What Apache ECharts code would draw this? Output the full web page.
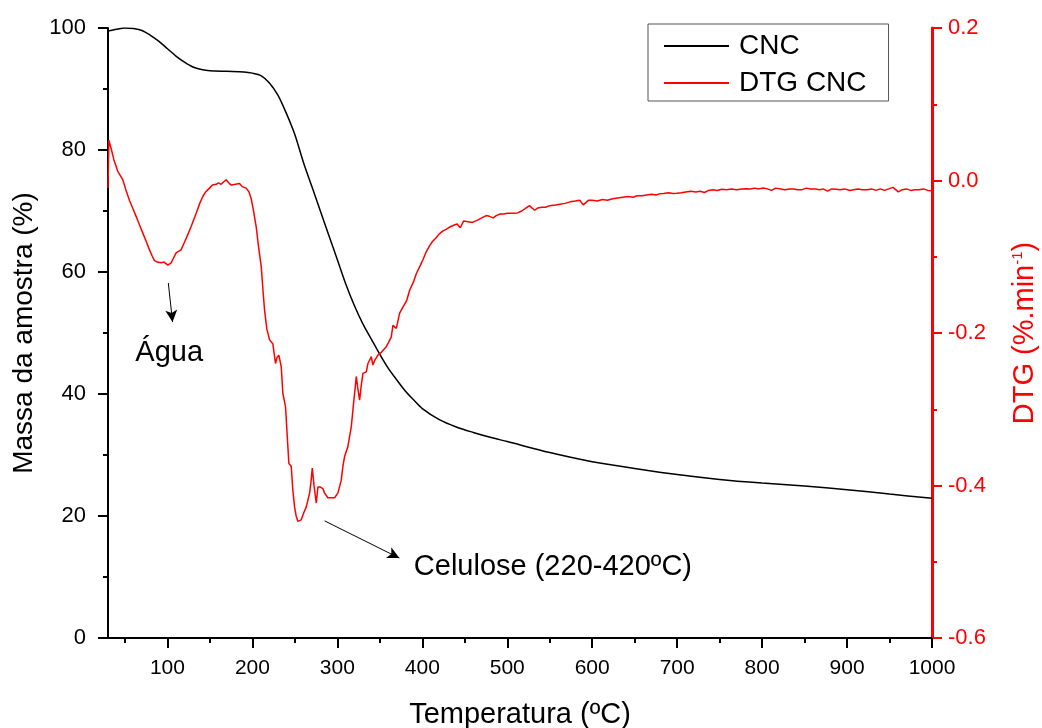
<!DOCTYPE html>
<html>
<head>
<meta charset="utf-8">
<script src="https://cdn.jsdelivr.net/npm/echarts@6/dist/echarts.min.js"></script>
<style>
  html, body { margin: 0; padding: 0; background: #fff; }
  #chart { width: 1042px; height: 728px; }
</style>
</head>
<body>
<div id="chart"></div>
<script>
// curva TG (massa %) x temperatura
let cncData = [
  [30, 99.5], [40, 99.8], [50, 100], [60, 99.9], [70, 99.6], [80, 98.8], [90, 97.8],
  [100, 96.6], [110, 95.4], [120, 94.4], [130, 93.6], [140, 93.2], [150, 93.0],
  [170, 92.9], [190, 92.8], [200, 92.6], [210, 92.2], [220, 91.0], [230, 89.0],
  [240, 86.0], [250, 82.5], [260, 78.0], [270, 74.0], [280, 70.0], [290, 66.0],
  [300, 62.0], [310, 58.0], [320, 54.5], [330, 51.5], [340, 49.0], [350, 46.5],
  [360, 44.2], [370, 42.3], [380, 40.5], [390, 39.0], [400, 37.6], [420, 35.8],
  [440, 34.6], [460, 33.7], [480, 32.9], [500, 32.2], [550, 30.4], [600, 28.9],
  [650, 27.8], [700, 26.8], [750, 26.0], [800, 25.4], [850, 24.9], [900, 24.3],
  [950, 23.6], [1000, 22.9]
];

// curva DTG (%.min-1)
let dtgData = [
  [30, -0.01], [31, 0.053], [33.7, 0.042], [37, 0.027], [41.5, 0.012], [47.4, 0.001],
  [51, -0.012], [55.2, -0.026], [59, -0.036], [63.1, -0.047], [67, -0.058], [71, -0.069],
  [75, -0.080], [78.8, -0.091], [82, -0.099], [84.7, -0.105], [88, -0.107], [92.5, -0.108],
  [96, -0.107], [100.4, -0.111], [104.3, -0.108], [107, -0.102], [110.2, -0.095],
  [113, -0.093], [116, -0.091], [120, -0.081], [123.9, -0.071], [128, -0.060],
  [133.8, -0.043], [138, -0.030], [141.6, -0.021], [145, -0.015], [149.5, -0.010],
  [153, -0.006], [157.4, -0.005], [160, -0.003], [163.2, -0.005], [166, -0.002],
  [169.1, 0.001], [172, -0.003], [175, -0.006], [180, -0.005], [184.8, -0.004],
  [188, -0.008], [192.7, -0.010], [196, -0.015], [198.6, -0.024], [201, -0.038],
  [204.5, -0.061], [207, -0.085], [210.4, -0.113], [212.5, -0.145], [214.3, -0.170],
  [217, -0.195], [220.2, -0.209], [224, -0.214], [227.2, -0.240], [229, -0.232],
  [231.1, -0.229], [233.9, -0.244], [235.8, -0.279], [239, -0.297], [241, -0.335],
  [242.9, -0.371], [245.7, -0.375], [247.5, -0.405], [249.6, -0.428], [251.5, -0.440],
  [253.5, -0.447], [255.5, -0.447], [257.5, -0.445], [260, -0.437], [263.4, -0.428],
  [267.3, -0.410], [269, -0.395], [270.5, -0.377], [272.5, -0.400], [275.2, -0.423],
  [277.1, -0.402], [280, -0.402], [282.9, -0.404], [285, -0.410], [288.8, -0.416],
  [293, -0.416], [296.7, -0.416], [300.6, -0.410], [304.6, -0.393], [306.5, -0.375],
  [308.5, -0.362], [312.4, -0.349], [314.5, -0.335], [316.4, -0.323], [319.1, -0.292],
  [322.3, -0.257], [324, -0.272], [326.2, -0.288], [328, -0.270], [330.1, -0.253],
  [334.1, -0.251], [336, -0.240], [340, -0.231], [341.8, -0.242], [344, -0.236],
  [347.7, -0.229], [352, -0.225], [357.6, -0.218], [360, -0.213], [363.5, -0.205],
  [365.4, -0.190], [367, -0.192], [369.4, -0.194], [373.3, -0.174], [377.2, -0.166],
  [381.4, -0.158], [385.1, -0.144], [389.6, -0.133], [393, -0.122], [397.8, -0.111],
  [400.7, -0.104], [404, -0.095], [408.3, -0.086], [412, -0.080], [416.3, -0.075],
  [420, -0.070], [424.3, -0.066], [428, -0.064], [432.2, -0.061], [438.3, -0.058],
  [441, -0.057], [444.7, -0.062], [448.7, -0.053], [454, -0.054], [459, -0.055],
  [465, -0.052], [470, -0.049], [475.2, -0.046], [479, -0.047], [483.5, -0.049],
  [487, -0.046], [491.6, -0.044], [496, -0.044], [500, -0.043], [506, -0.043],
  [512, -0.0425], [517, -0.040], [521, -0.037], [526.2, -0.033], [529, -0.036],
  [532.3, -0.039], [536, -0.036], [540.5, -0.035], [545, -0.035], [550, -0.033],
  [556.8, -0.032], [562, -0.031], [568, -0.030], [574, -0.028], [580, -0.027],
  [585.3, -0.026], [589.4, -0.032], [595.5, -0.026], [600, -0.026], [606, -0.027],
  [612, -0.025], [618, -0.026], [624, -0.024], [630, -0.023], [636, -0.022],
  [642.4, -0.021], [648, -0.022], [653, -0.020], [658.7, -0.020], [664, -0.019],
  [670, -0.018], [675, -0.019], [679.1, -0.0175], [684, -0.017], [690, -0.016],
  [695, -0.017], [699.5, -0.0166], [705, -0.016], [710, -0.015], [715.8, -0.014],
  [722, -0.015], [727, -0.014], [732.1, -0.0157], [737, -0.013], [742, -0.012],
  [747, -0.013], [752.5, -0.0115], [758, -0.012], [764, -0.011], [770, -0.012],
  [776, -0.011], [781, -0.0108], [786, -0.011], [791, -0.010], [796, -0.011],
  [801.4, -0.0098], [806, -0.011], [811, -0.013], [816, -0.010], [821.8, -0.011],
  [827, -0.012], [832, -0.011], [837, -0.011], [842, -0.012], [847, -0.012],
  [852, -0.010], [857, -0.011], [862.6, -0.011], [868, -0.012], [872, -0.011],
  [877, -0.014], [882, -0.011], [887, -0.0115], [892, -0.012], [897, -0.011],
  [903.4, -0.013], [908, -0.012], [913, -0.011], [918, -0.012], [923.8, -0.012],
  [929, -0.011], [934, -0.013], [939, -0.011], [944.2, -0.013], [949, -0.011],
  [954, -0.009], [960.4, -0.015], [965, -0.012], [970, -0.011], [975, -0.013],
  [980, -0.012], [984.9, -0.012], [990, -0.011], [995, -0.013], [1000, -0.0135]
];

// ticks do eixo x
let xMajorTicks = [100, 200, 300, 400, 500, 600, 700, 800, 900, 1000];
let xMinorTicks = [50, 150, 250, 350, 450, 550, 650, 750, 850, 950];

// anotacoes (setas e textos)
let aguaArrow = [[101, 58.2], [106, 51.8]];
let aguaText = [102, 46.8];
let celuloseArrow = [[285, 19.2], [373, 13.1]];
let celuloseText = [390, 11.6];

const font = 'Liberation Sans, Arial, sans-serif';
let chartDom = document.getElementById('chart');
const myChart = echarts.init(chartDom);

let option = {
  animation: false,
  textStyle: { fontFamily: font },
  grid: { left: 108, right: 110, top: 28, bottom: 90, containLabel: false, outerBoundsMode: 'none' },
  legend: {
    left: 648,
    top: 24,
    orient: 'vertical',
    padding: [8, 22, 4, 16],
    itemGap: 9,
    itemWidth: 65,
    itemHeight: 2,
    borderColor: '#555',
    borderWidth: 1,
    textStyle: { fontSize: 28, color: '#000', fontFamily: font, padding: [0, 0, 0, 5] },
    data: [
      { name: 'CNC', icon: 'rect' },
      { name: 'DTG CNC', icon: 'rect' }
    ]
  },
  xAxis: [
    {
      type: 'value',
      min: 30,
      max: 1000,
      name: 'Temperatura (ºC)',
      nameLocation: 'middle',
      nameGap: 62,
      nameTextStyle: { fontSize: 29, color: '#000', fontFamily: font },
      axisLine: { onZero: false, lineStyle: { color: '#000', width: 2 } },
      axisTick: { customValues: xMajorTicks, length: 10, lineStyle: { color: '#000', width: 2 } },
      axisLabel: { customValues: xMajorTicks, fontSize: 21, color: '#000', margin: 20, formatter: v => String(v) },
      splitLine: { show: false }
    },
    {
      type: 'value',
      min: 30,
      max: 1000,
      position: 'bottom',
      axisLine: { show: false },
      axisTick: { customValues: xMinorTicks, length: 5, lineStyle: { color: '#000', width: 2 } },
      axisLabel: { show: false },
      splitLine: { show: false }
    }
  ],
  yAxis: [
    {
      type: 'value',
      min: 0,
      max: 100,
      interval: 20,
      position: 'left',
      name: 'Massa da amostra (%)',
      nameLocation: 'middle',
      nameGap: 68,
      nameTextStyle: { fontSize: 28, color: '#000', fontFamily: font },
      axisLine: { show: true, lineStyle: { color: '#000', width: 2 } },
      axisTick: { show: true, length: 10, lineStyle: { color: '#000', width: 2 } },
      minorTick: { show: true, splitNumber: 2, length: 5, lineStyle: { color: '#000', width: 2 } },
      axisLabel: { fontSize: 22, color: '#000', margin: 22 },
      splitLine: { show: false }
    },
    {
      type: 'value',
      min: -0.6,
      max: 0.2,
      interval: 0.2,
      position: 'right',
      name: 'DTG (%.min{sup|-1})',
      nameLocation: 'middle',
      nameGap: 78,
      nameRotate: 90,
      nameTextStyle: {
        fontSize: 29, color: '#f00', fontFamily: font,
        rich: { sup: { fontSize: 15, color: '#f00', verticalAlign: 'top', padding: [0, 0, 14, 0] } }
      },
      axisLine: { show: true, lineStyle: { color: '#f00', width: 3 } },
      axisTick: { show: true, length: 10, lineStyle: { color: '#f00', width: 2 } },
      minorTick: { show: true, splitNumber: 2, length: 5, lineStyle: { color: '#f00', width: 2 } },
      axisLabel: {
        fontSize: 22, color: '#f00', margin: 16,
        formatter: v => (Math.abs(v) < 1e-9 ? '0.0' : v.toFixed(1))
      },
      splitLine: { show: false }
    }
  ],
  series: [
    {
      name: 'CNC',
      type: 'line',
      xAxisIndex: 0,
      yAxisIndex: 0,
      data: cncData,
      symbol: 'none',
      smooth: 0.3,
      lineStyle: { color: '#000', width: 1.5 },
      itemStyle: { color: '#000' },
      markLine: {
        silent: true,
        symbol: ['none', 'arrow'],
        symbolSize: [9, 12],
        label: { show: false },
        lineStyle: { color: '#000', width: 1, type: 'solid' },
        data: [
          [{ coord: aguaArrow[0] }, { coord: aguaArrow[1] }],
          [{ coord: celuloseArrow[0] }, { coord: celuloseArrow[1] }]
        ]
      },
      markPoint: {
        silent: true,
        symbol: 'circle',
        symbolSize: 0,
        data: [
          { coord: aguaText, label: { show: true, formatter: 'Água', position: 'inside', fontSize: 29, color: '#000' } },
          { coord: celuloseText, label: { show: true, formatter: 'Celulose (220-420ºC)', position: 'right', distance: 0, fontSize: 29, color: '#000' } }
        ]
      }
    },
    {
      name: 'DTG CNC',
      type: 'line',
      xAxisIndex: 0,
      yAxisIndex: 1,
      data: dtgData,
      symbol: 'none',
      lineStyle: { color: '#f00', width: 1.5 },
      itemStyle: { color: '#f00' }
    }
  ]
};

myChart.setOption(option);
</script>
</body>
</html>
